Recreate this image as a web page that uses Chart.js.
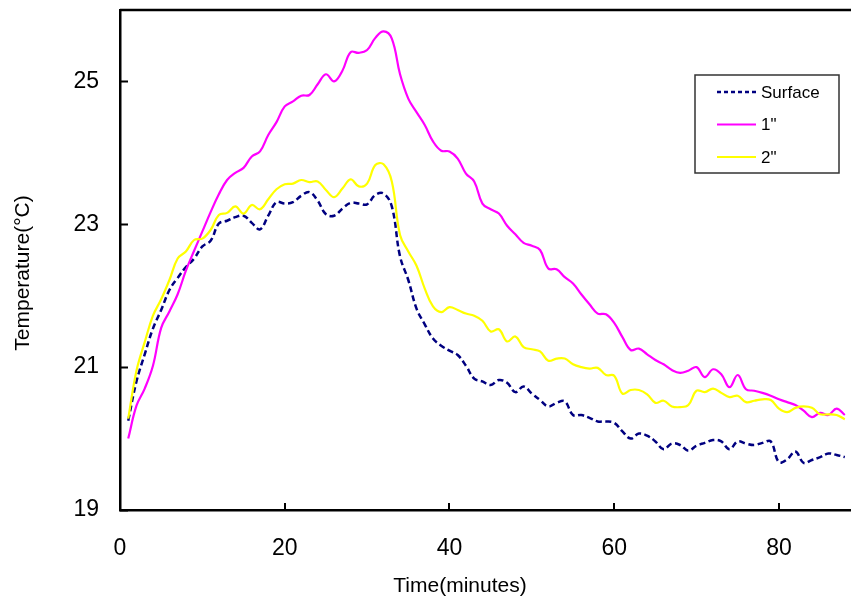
<!DOCTYPE html>
<html>
<head>
<meta charset="utf-8">
<title>Temperature vs time</title>
<script src="https://cdn.jsdelivr.net/npm/chart.js@4.4.1/dist/chart.umd.min.js"></script>
<style>
  html, body { margin: 0; padding: 0; background: #fff; }
  #wrap { width: 851px; height: 601px; position: relative; }
</style>
</head>
<body>
<div id="wrap"><canvas id="chart"></canvas></div>
<script>
// minutes 1..88
const minutes = [];
for (let m = 1; m <= 88; m++) minutes.push(m);

const surface = [
  20.25, 20.80, 21.18, 21.54, 21.80, 22.08, 22.25, 22.40, 22.52, 22.69,
  22.77, 23.01, 23.05, 23.10, 23.12, 23.02, 22.93, 23.12, 23.31, 23.29,
  23.31, 23.40, 23.45, 23.33, 23.14, 23.12, 23.22, 23.30, 23.29, 23.28,
  23.41, 23.43, 23.25, 22.55, 22.22, 21.82, 21.60, 21.40, 21.30, 21.23,
  21.17, 21.02, 20.84, 20.80, 20.75, 20.82, 20.78, 20.65, 20.73, 20.63,
  20.54, 20.45, 20.50, 20.52, 20.33, 20.33, 20.29, 20.24, 20.24, 20.22,
  20.10, 20.00, 20.07, 20.04, 19.96, 19.85, 19.93, 19.91, 19.83, 19.90,
  19.94, 19.98, 19.96, 19.85, 19.96, 19.93, 19.91, 19.94, 19.96, 19.67,
  19.71, 19.82, 19.66, 19.70, 19.74, 19.79, 19.77, 19.74
];

const oneInch = [
  20.00, 20.46, 20.70, 21.02, 21.55, 21.78, 22.02, 22.35, 22.63, 22.90,
  23.17, 23.42, 23.62, 23.72, 23.79, 23.95, 24.02, 24.25, 24.43, 24.65,
  24.72, 24.80, 24.81, 24.96, 25.10, 25.00, 25.15, 25.41, 25.40, 25.44,
  25.61, 25.70, 25.60, 25.10, 24.76, 24.57, 24.39, 24.16, 24.03, 24.02,
  23.92, 23.71, 23.60, 23.29, 23.21, 23.15, 22.98, 22.86, 22.74, 22.70,
  22.64, 22.38, 22.37, 22.26, 22.17, 22.02, 21.88, 21.75, 21.74, 21.62,
  21.42, 21.24, 21.26, 21.18, 21.10, 21.04, 20.96, 20.92, 20.95, 21.00,
  20.86, 20.97, 20.90, 20.72, 20.89, 20.69, 20.67, 20.64, 20.60, 20.55,
  20.51, 20.47, 20.39, 20.30, 20.36, 20.33, 20.42, 20.33
];

const twoInch = [
  20.28, 20.95, 21.35, 21.72, 21.95, 22.22, 22.52, 22.62, 22.78, 22.80,
  22.92, 23.13, 23.16, 23.25, 23.15, 23.27, 23.21, 23.35, 23.49, 23.56,
  23.57, 23.62, 23.59, 23.60, 23.48, 23.38, 23.50, 23.63, 23.53, 23.57,
  23.83, 23.84, 23.60, 22.85, 22.62, 22.42, 22.10, 21.85, 21.77, 21.84,
  21.80, 21.75, 21.72, 21.65, 21.50, 21.53, 21.36, 21.43, 21.28, 21.25,
  21.22, 21.09, 21.12, 21.12, 21.04, 21.00, 20.98, 20.99, 20.89, 20.88,
  20.63, 20.68, 20.68, 20.62, 20.50, 20.53, 20.45, 20.44, 20.47, 20.67,
  20.65, 20.70, 20.64, 20.58, 20.60, 20.51, 20.53, 20.55, 20.54, 20.42,
  20.37, 20.43, 20.45, 20.43, 20.34, 20.34, 20.33, 20.27
];

const seriesNames = ['Surface', '1"', '2"'];
const seriesColors = ['#000080', '#FF00FF', '#FFFF00'];
const xTicks = [0, 20, 40, 60, 80];
const yTicks = [19, 21, 23, 25];

const FONT = '"Liberation Sans", Arial, sans-serif';

function pts(vals) {
  return vals.map((v, i) => ({ x: minutes[i], y: v }));
}

// inward tick marks, top frame line, axis titles and the boxed legend
const extras = {
  id: 'extras',
  afterDraw(chart) {
    const { ctx, chartArea: a, scales } = chart;
    ctx.save();
    ctx.strokeStyle = '#000';
    ctx.lineWidth = 2.5;
    ctx.beginPath();
    ctx.moveTo(a.left, a.top);
    ctx.lineTo(a.right, a.top);
    ctx.stroke();

    ctx.lineWidth = 2;
    ctx.beginPath();
    yTicks.forEach(v => {
      const y = Math.round(scales.y.getPixelForValue(v)) + 0.5;
      ctx.moveTo(a.left, y);
      ctx.lineTo(a.left + 8, y);
    });
    xTicks.forEach(v => {
      const x = Math.round(scales.x.getPixelForValue(v));
      if (v === 0) return;
      ctx.moveTo(x, a.bottom);
      ctx.lineTo(x, a.bottom - 7);
    });
    ctx.stroke();

    // axis titles
    ctx.fillStyle = '#000';
    ctx.font = '21px ' + FONT;
    ctx.textAlign = 'center';
    ctx.textBaseline = 'middle';
    ctx.fillText('Time(minutes)', 460, 586);
    ctx.translate(23, 273);
    ctx.rotate(-Math.PI / 2);
    ctx.fillText('Temperature(\u00B0C)', 0, 0);
    ctx.setTransform(1, 0, 0, 1, 0, 0);

    // legend
    const bx = 695, by = 75, bw = 144, bh = 98;
    ctx.fillStyle = '#fff';
    ctx.fillRect(bx, by, bw, bh);
    ctx.strokeStyle = '#333';
    ctx.lineWidth = 1.5;
    ctx.strokeRect(bx, by, bw, bh);
    const rows = [92, 124.5, 157];
    ctx.font = '17px ' + FONT;
    ctx.textAlign = 'left';
    seriesNames.forEach((name, i) => {
      const ds = chart.data.datasets[i];
      ctx.strokeStyle = ds.borderColor;
      ctx.lineWidth = ds.borderWidth;
      ctx.setLineDash(i === 0 ? [4, 3] : []);
      ctx.beginPath();
      ctx.moveTo(717, rows[i]);
      ctx.lineTo(756, rows[i]);
      ctx.stroke();
      ctx.setLineDash([]);
      ctx.fillStyle = '#000';
      ctx.fillText(name, 761, rows[i] + 1);
    });
    ctx.restore();
  }
};

new Chart(document.getElementById('chart'), {
  type: 'line',
  data: {
    datasets: [
      { label: seriesNames[0], data: pts(surface), borderColor: seriesColors[0],
        borderWidth: 2.5, borderDash: [6, 3.5], order: 3 },
      { label: seriesNames[1], data: pts(oneInch), borderColor: seriesColors[1],
        borderWidth: 2.2, order: 2 },
      { label: seriesNames[2], data: pts(twoInch), borderColor: seriesColors[2],
        borderWidth: 2.2, order: 1 }
    ]
  },
  options: {
    responsive: true,
    maintainAspectRatio: false,
    animation: false,
    layout: { padding: { top: 10, right: 0, left: 0, bottom: 0 } },
    elements: {
      point: { radius: 0 },
      line: { tension: 0.4, fill: false }
    },
    plugins: {
      legend: { display: false },
      tooltip: { enabled: false }
    },
    scales: {
      x: {
        type: 'linear',
        min: 0,
        max: 88.75,
        afterBuildTicks: s => { s.ticks = xTicks.map(v => ({ value: v })); },
        afterFit: s => { s.height = 91; s.paddingLeft = 0; s.paddingRight = 0; },
        grid: { display: false, drawTicks: false },
        border: { display: true, color: '#000', width: 2.5 },
        ticks: { padding: 25, color: '#000', font: { family: FONT, size: 23 }, maxRotation: 0 }
      },
      y: {
        min: 19,
        max: 26,
        afterBuildTicks: s => { s.ticks = yTicks.map(v => ({ value: v })); },
        afterFit: s => { s.width = 120; s.paddingTop = 0; s.paddingBottom = 0; },
        grid: { display: false, drawTicks: false },
        border: { display: true, color: '#000', width: 2.5 },
        ticks: { padding: 21, color: '#000', font: { family: FONT, size: 23 } }
      }
    }
  },
  plugins: [extras]
});
</script>
</body>
</html>
